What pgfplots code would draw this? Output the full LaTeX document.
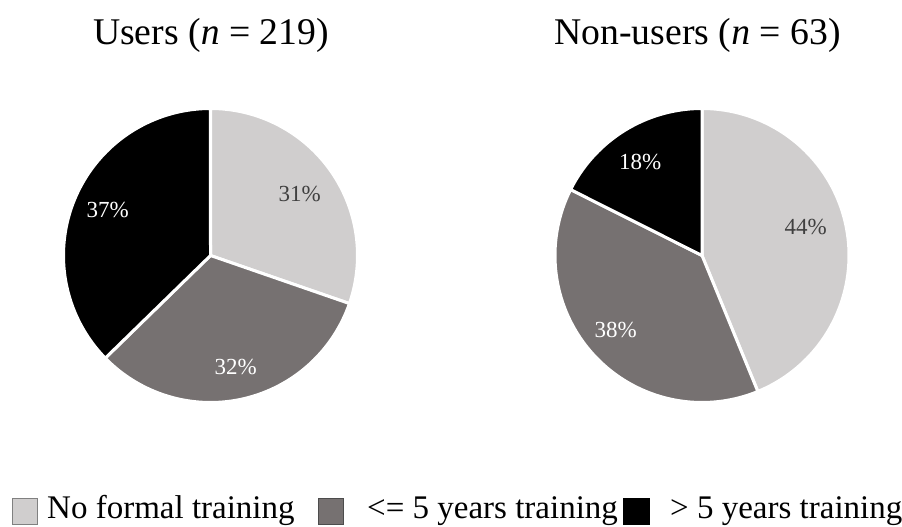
\documentclass[border=0pt]{standalone}
\usepackage{fontspec}
\setmainfont{Liberation Serif}
\usepackage{pgfplots}
\pgfplotsset{compat=1.18}
\definecolor{cLight}{HTML}{D0CECE}
\definecolor{cDark}{HTML}{767171}
\definecolor{cTxt}{HTML}{404040}
% slice: cx, cy, r, start angle, end angle, colour (angles clockwise from top)
\newcommand{\pieslice}[6]{%
  \addplot[fill=#6, draw=white, line width=3pt, line join=round, domain=#4:#5, samples=90]
    ({#1+#3*sin(x)},{#2+#3*cos(x)}) -- (axis cs:#1,#2) -- cycle;}
\begin{document}
\begin{tikzpicture}
% data: shares in percent
\def\uA{30.3}\def\uB{32.4}\def\uC{37.3}
\def\nA{43.8}\def\nB{38.6}\def\nC{17.6}
\pgfmathsetmacro{\uAB}{3.6*\uA}\pgfmathsetmacro{\uBB}{3.6*(\uA+\uB)}
\pgfmathsetmacro{\nAB}{3.6*\nA}\pgfmathsetmacro{\nBB}{3.6*(\nA+\nB)}
\begin{axis}[x=1pt, y=1pt, xmin=0, xmax=902, ymin=0, ymax=527,
  hide axis, scale only axis, clip=false, anchor=origin, at={(0,0)}]
\pieslice{210.5}{271.5}{147}{0}{\uAB}{cLight}
\pieslice{210.5}{271.5}{147}{\uAB}{\uBB}{cDark}
\pieslice{210.5}{271.5}{147}{\uBB}{360}{black}
\pieslice{702}{271.5}{147}{0}{\nAB}{cLight}
\pieslice{702}{271.5}{147}{\nAB}{\nBB}{cDark}
\pieslice{702}{271.5}{147}{\nBB}{360}{black}
% slice labels
\begin{scope}[every node/.style={font=\fontsize{23}{23}\selectfont, inner sep=0pt, anchor=center}]
\node[text=cTxt] at (axis cs:299.7,333) {31\%};
\node[text=white] at (axis cs:235.8,160.3) {32\%};
\node[text=white] at (axis cs:107.8,317.3) {37\%};
\node[text=cTxt] at (axis cs:805.8,299.5) {44\%};
\node[text=white] at (axis cs:615.8,197) {38\%};
\node[text=white] at (axis cs:640.3,365.3) {18\%};
\end{scope}
% titles
\node[font=\fontsize{37.7}{40}\selectfont, anchor=base, inner sep=0pt] at (axis cs:211,482) {Users (\textit{n} = 219)};
\node[font=\fontsize{37.7}{40}\selectfont, anchor=base, inner sep=0pt] at (axis cs:697.5,482) {Non-users (\textit{n} = 63)};
% legend
\filldraw[fill=cLight, draw=gray, line width=0.8pt] (axis cs:12,2.5) rectangle (axis cs:37.5,29);
\filldraw[fill=cDark, draw=gray!60!black, line width=0.8pt] (axis cs:318,2.5) rectangle (axis cs:343.5,29);
\filldraw[fill=black, draw=black, line width=0.8pt] (axis cs:623,2.5) rectangle (axis cs:649.5,29);
\begin{scope}[every node/.style={font=\fontsize{33}{35}\selectfont, inner sep=0pt, anchor=base west}]
\node at (axis cs:47,8) {No formal training};
\node at (axis cs:367,8) {<= 5 years training};
\node at (axis cs:670,8) {> 5 years training};
\end{scope}
\end{axis}
\pgfresetboundingbox
\path (0,0) rectangle (902pt,527pt);
\end{tikzpicture}
\end{document}
